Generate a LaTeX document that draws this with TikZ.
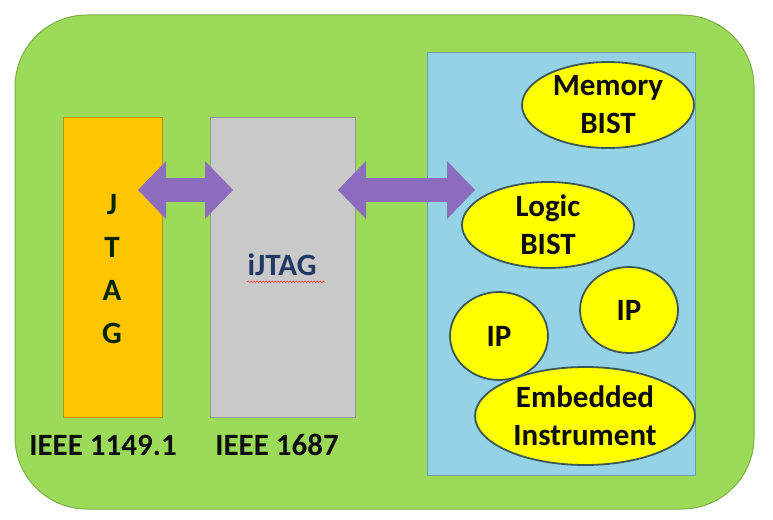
\documentclass[tikz,border=0pt]{standalone}
\usepackage{fontspec}
\setmainfont{Carlito}
\usetikzlibrary{arrows.meta, shapes.geometric, decorations.pathmorphing}

\definecolor{boardgreen}{RGB}{155,219,89}
\definecolor{jtagorange}{RGB}{255,198,0}
\definecolor{ijtaggray}{RGB}{201,201,201}
\definecolor{chipblue}{RGB}{150,210,230}
\definecolor{instyellow}{RGB}{255,255,0}
\definecolor{instedge}{RGB}{58,88,88}
\definecolor{linkpurple}{RGB}{140,108,190}
\definecolor{ijtagnavy}{RGB}{31,56,100}

\begin{document}
\begin{tikzpicture}[x=1pt, y=-1pt,
    bigfont/.style={font=\fontsize{31}{38}\selectfont\bfseries},
    block/.style={rectangle, draw=#1!75!black, fill=#1, line width=1pt,
                anchor=north west, inner sep=0pt},
    inst/.style={ellipse, draw=instedge, fill=instyellow, line width=1.8pt,
                inner sep=0pt, align=center, text=black!95, bigfont},
    link/.style={line width=24pt, draw=linkpurple,
                {Triangle[length=28pt, width=58pt, line width=0pt]}-{Triangle[length=28pt, width=58pt, line width=0pt]}},
    stdlabel/.style={bigfont, text=black!95, inner sep=0pt}]

    \useasboundingbox (0,0) rectangle (773,519);

    % board
    \draw[fill=boardgreen, draw=boardgreen!80!black, line width=1pt, rounded corners=72pt]
        (15,15) rectangle (754,509);

    % blocks
    \node[block=jtagorange, minimum width=99pt, minimum height=300pt] (jtag) at (63,117) {};
    \node[block=ijtaggray, minimum width=145pt, minimum height=300pt] (ijtag) at (210,117) {};
    \node[block=chipblue, minimum width=268pt, minimum height=423pt] (chip) at (427,52) {};

    \node[text=black!85!green, align=center, font=\fontsize{31}{43}\selectfont\bfseries]
        (jtagtxt) at (112,269) {J\\T\\A\\G};
    \node[bigfont, text=ijtagnavy, inner sep=0pt] (ijtagtxt) at (282,265) {iJTAG};
    \draw[red!80, line width=0.6pt, decorate, decoration={snake, amplitude=0.8pt, segment length=3pt}]
        ([yshift=-6pt]ijtagtxt.base west) -- ([xshift=8pt, yshift=-6pt]ijtagtxt.base east);

    \node[stdlabel] (std1) at (103,445) {IEEE 1149.1};
    \node[stdlabel] (std2) at (277,445) {IEEE 1687};

    % embedded instruments
    \node[inst, minimum width=172pt, minimum height=86pt] (membist) at (608,105) {Memory\\BIST};
    \node[inst, minimum width=172pt, minimum height=86pt] (logbist) at (548,225) {Logic\\BIST};
    \node[inst, minimum width=98pt, minimum height=86pt] (ipright) at (629,310) {IP};
    \node[inst, minimum width=98pt, minimum height=88pt] (ipleft) at (499,336) {IP};
    \node[inst, minimum width=220pt, minimum height=98pt] (embinst) at (585,416) {Embedded\\Instrument};

    % links
    \draw[link] ([shift={(-25,73)}]jtag.north east) -- ([shift={(23,73)}]ijtag.north west);
    \draw[link] ([shift={(-18,73)}]ijtag.north east) -- ([shift={(48,138)}]chip.north west);
\end{tikzpicture}
\end{document}
